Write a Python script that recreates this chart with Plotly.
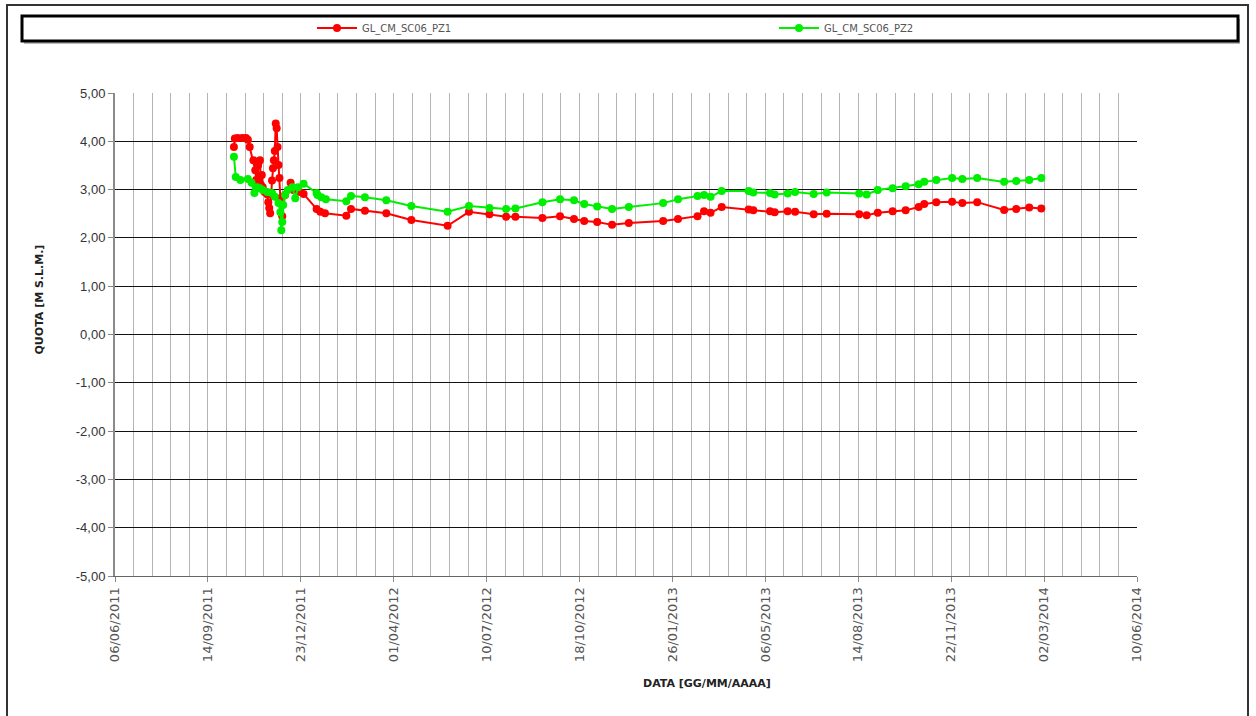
import plotly.graph_objects as go

# ---------------- data ----------------
pz1_dates = [
    "2011-10-12", "2011-10-13", "2011-10-16", "2011-10-21", "2011-10-25", "2011-10-27",
    "2011-10-29", "2011-11-02", "2011-11-04", "2011-11-05", "2011-11-06", "2011-11-07",
    "2011-11-08", "2011-11-09", "2011-11-10", "2011-11-11", "2011-11-12", "2011-11-14",
    "2011-11-17", "2011-11-18", "2011-11-19", "2011-11-20", "2011-11-22", "2011-11-23",
    "2011-11-24", "2011-11-25", "2011-11-26", "2011-11-27", "2011-11-28", "2011-11-29",
    "2011-11-30", "2011-12-01", "2011-12-03", "2011-12-06", "2011-12-12", "2011-12-15",
    "2011-12-22", "2011-12-26",
    "2012-01-09", "2012-01-13", "2012-01-18", "2012-02-10", "2012-02-15", "2012-03-01",
    "2012-03-24", "2012-04-20", "2012-05-29", "2012-06-21", "2012-07-13", "2012-07-31",
    "2012-08-10", "2012-09-08", "2012-09-27", "2012-10-12", "2012-10-23", "2012-11-06",
    "2012-11-22", "2012-12-10",
    "2013-01-16", "2013-02-01", "2013-02-22", "2013-03-01", "2013-03-08", "2013-03-20",
    "2013-04-18", "2013-04-23", "2013-05-11", "2013-05-16", "2013-05-30", "2013-06-07",
    "2013-06-27", "2013-07-11", "2013-08-15", "2013-08-23", "2013-09-04", "2013-09-20",
    "2013-10-04", "2013-10-18", "2013-10-24", "2013-11-06", "2013-11-23", "2013-12-04",
    "2013-12-20",
    "2014-01-18", "2014-01-31", "2014-02-14", "2014-02-27",
]
pz1_values = [
    3.88, 4.06, 4.07, 4.07, 4.07, 4.03,
    3.88, 3.61, 3.40, 3.20, 3.05, 3.50,
    3.58, 3.61, 3.10, 3.30, 3.05, 2.95,
    2.90, 2.74, 2.62, 2.51, 3.19, 3.44,
    3.61, 3.80, 4.37, 4.27, 3.88, 3.51,
    3.24, 2.82, 2.45, 2.89, 3.14, 2.99,
    2.95, 2.91,
    2.60, 2.54, 2.51, 2.46, 2.60, 2.56,
    2.51, 2.37, 2.25, 2.54, 2.49, 2.44,
    2.44, 2.41, 2.45, 2.39, 2.35, 2.33,
    2.27, 2.31,
    2.35, 2.39, 2.45, 2.55, 2.52, 2.64,
    2.59, 2.57, 2.55, 2.53, 2.55, 2.54,
    2.49, 2.50, 2.49, 2.47, 2.52, 2.55,
    2.57, 2.64, 2.70, 2.74, 2.75, 2.72,
    2.74,
    2.58, 2.60, 2.63, 2.61,
]

pz2_dates = [
    "2011-10-12", "2011-10-14", "2011-10-19", "2011-10-27", "2011-10-31", "2011-11-03",
    "2011-11-06", "2011-11-09", "2011-11-12", "2011-11-17", "2011-11-22", "2011-11-25",
    "2011-11-29", "2011-12-01", "2011-12-02", "2011-12-03", "2011-12-04", "2011-12-06",
    "2011-12-09", "2011-12-14", "2011-12-17", "2011-12-20", "2011-12-26",
    "2012-01-09", "2012-01-10", "2012-01-14", "2012-01-19", "2012-02-10", "2012-02-15",
    "2012-03-01", "2012-03-24", "2012-04-20", "2012-05-29", "2012-06-21", "2012-07-13",
    "2012-07-31", "2012-08-10", "2012-09-08", "2012-09-27", "2012-10-12", "2012-10-23",
    "2012-11-06", "2012-11-22", "2012-12-10",
    "2013-01-16", "2013-02-01", "2013-02-22", "2013-03-01", "2013-03-08", "2013-03-20",
    "2013-04-18", "2013-04-23", "2013-05-11", "2013-05-16", "2013-05-30", "2013-06-07",
    "2013-06-27", "2013-07-11", "2013-08-15", "2013-08-23", "2013-09-04", "2013-09-20",
    "2013-10-04", "2013-10-18", "2013-10-24", "2013-11-06", "2013-11-23", "2013-12-04",
    "2013-12-20",
    "2014-01-18", "2014-01-31", "2014-02-14", "2014-02-27",
]
pz2_values = [
    3.68, 3.26, 3.20, 3.22, 3.14, 2.93,
    3.05, 3.03, 2.99, 2.95, 2.93, 2.85,
    2.72, 2.53, 2.16, 2.33, 2.68, 2.89,
    2.99, 3.05, 2.82, 3.05, 3.12,
    2.93, 2.89, 2.84, 2.80, 2.76, 2.87,
    2.84, 2.78, 2.66, 2.54, 2.66, 2.62,
    2.60, 2.61, 2.74, 2.80, 2.78, 2.70,
    2.65, 2.60, 2.64,
    2.72, 2.80, 2.87, 2.89, 2.85, 2.97,
    2.97, 2.94, 2.93, 2.90, 2.92, 2.95,
    2.91, 2.94, 2.92, 2.90, 2.99, 3.03,
    3.07, 3.11, 3.16, 3.20, 3.24, 3.22,
    3.24,
    3.16, 3.18, 3.20, 3.24,
]

series_names = ["GL_CM_SC06_PZ1", "GL_CM_SC06_PZ2"]
series_colors = ["#ff0000", "#00ee00"]
x_tick0 = "2011-06-06"
x_range = ["2011-06-06", "2014-06-10"]
y_range = [-5, 5]
y_tick_values = [-5, -4, -3, -2, -1, 0, 1, 2, 3, 4, 5]
y_tick_labels = ["-5,00", "-4,00", "-3,00", "-2,00", "-1,00", "0,00",
                 "1,00", "2,00", "3,00", "4,00", "5,00"]

# ---------------- layout helpers ----------------
W, H = 1256, 716
L, R, T, B = 115, 1137, 93, 576
pw, ph = R - L, B - T


def px(xp):
    return (xp - L) / pw


def py(yp):
    return (B - yp) / ph


DAY = 86400000

fig = go.Figure()
legend_ids = ["legend", "legend2"]
for d, v, n, c, lg in zip([pz1_dates, pz2_dates], [pz1_values, pz2_values],
                          series_names, series_colors, legend_ids):
    fig.add_trace(go.Scatter(
        x=d, y=v, name=n, mode="lines+markers",
        line=dict(color=c, width=2),
        marker=dict(color=c, size=8),
        legend=lg,
    ))

shapes = [
    # outer frame
    dict(type="rect", xref="paper", yref="paper", x0=px(7), x1=px(1248), y0=py(730), y1=py(5),
         line=dict(color="#333333", width=2), layer="below"),
    # legend shadow
    dict(type="rect", xref="paper", yref="paper", x0=px(24), x1=px(1240), y0=py(44), y1=py(19),
         line=dict(width=0), fillcolor="#b8b8b8", layer="below"),
    # legend box
    dict(type="rect", xref="paper", yref="paper", x0=px(22), x1=px(1238), y0=py(41), y1=py(16),
         line=dict(color="black", width=3), fillcolor="white", layer="below"),
]

annotations = [
    dict(text="<b>QUOTA [M S.L.M.]</b>", xref="paper", yref="paper", x=px(30), y=py(300),
         textangle=-90, showarrow=False, font=dict(family="DejaVu Sans", size=11, color="#222222")),
    dict(text="<b>DATA [GG/MM/AAAA]</b>", xref="paper", yref="paper", x=px(707), y=py(692),
         showarrow=False, font=dict(family="DejaVu Sans", size=11, color="#222222")),
]

legend_font = dict(family="DejaVu Sans", size=10, color="#555555")


def make_legend(xpix):
    return dict(orientation="h", x=px(xpix), y=py(28), xanchor="left", yanchor="middle",
                itemwidth=40, bgcolor="rgba(0,0,0,0)", borderwidth=0, font=legend_font)


fig.update_layout(
    width=W, height=H,
    margin=dict(l=L, r=W - R, t=T, b=H - B, autoexpand=False),
    paper_bgcolor="white", plot_bgcolor="white",
    separators=",.",
    showlegend=True,
    legend=make_legend(312),
    legend2=make_legend(774),
    shapes=shapes,
    annotations=annotations,
    xaxis=dict(
        type="date", range=x_range, tick0=x_tick0, dtick=100 * DAY,
        tickformat="%d/%m/%Y", tickangle=-90,
        tickfont=dict(family="DejaVu Sans", size=13, color="#555555"),
        ticks="outside", ticklen=5, tickcolor="#888888",
        showgrid=True, gridcolor="#b4b4b4", gridwidth=1,
        minor=dict(dtick=20 * DAY, tick0=x_tick0, showgrid=True, gridcolor="#b4b4b4", gridwidth=1),
        showline=True, linecolor="#666666", linewidth=1,
        zeroline=False, fixedrange=True,
    ),
    yaxis=dict(
        range=y_range, tickmode="array", tickvals=y_tick_values, ticktext=y_tick_labels,
        tickfont=dict(family="Liberation Sans", size=13, color="#333333"),
        ticks="outside", ticklen=5, tickcolor="#888888",
        showgrid=True, gridcolor="#111111", gridwidth=1,
        showline=True, linecolor="#8a8a8a", linewidth=2,
        zeroline=False, fixedrange=True,
    ),
)

fig.write_html("out.html", config={"displayModeBar": False},
               post_script="document.body.style.margin='0px';")
